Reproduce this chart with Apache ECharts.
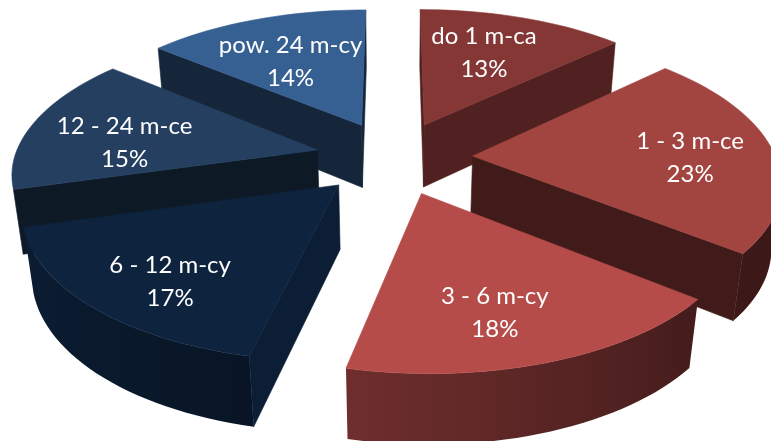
<!DOCTYPE html>
<html><head><meta charset="utf-8">
<style>html,body{margin:0;padding:0;background:#fff}#c{width:771px;height:441px}</style>
<script src="https://cdn.jsdelivr.net/npm/echarts@6/dist/echarts.min.js"></script>
</head><body><div id="c"></div>
<script>
var categories = ['do 1 m-ca', '1 - 3 m-ce', '3 - 6 m-cy', '6 - 12 m-cy', '12 - 24 m-ce', 'pow. 24 m-cy'];
var values = [13, 22.8, 17.8, 17, 15.4, 14];
var topColors = ['#853735', '#A24440', '#B54C4A', '#0E233E', '#243F60', '#376092'];
var cutShades = [0.6, 0.4, 0.4, 0.87, 0.4, 0.4];
var labelNudges = [[-12, 5], [7, 5], [-12, 7], [-2, 15], [7, 12], [6, 13]];

var VIEW = {cx: 392, cy: 157.5, A: 308, B: 141.4, k: 0.1486, m: 0.025, D: 65, explode: 0.26, labelR: 0.96,
  shiftA: 2, shiftB: -5, shiftC: -3};
var total = values.reduce(function (a, b) { return a + b; }, 0);
var RAD = Math.PI / 180;

function project(x, y, low) {
  var s = 1 / (1 + VIEW.k * y + (low ? VIEW.m : 0));
  return [VIEW.cx + VIEW.A * x * s + VIEW.shiftA + VIEW.shiftB * x + VIEW.shiftC * Math.min(y, 0),
          VIEW.cy + (-VIEW.B * y + (low ? VIEW.D : 0)) * s];
}
function shade(hex, f) {
  var n = parseInt(hex.slice(1), 16);
  return 'rgb(' + Math.round((n >> 16) * f) + ',' + Math.round(((n >> 8) & 255) * f) + ',' + Math.round((n & 255) * f) + ')';
}
function wallShade(deg) {
  return Math.max(0.37, Math.min(0.9, 0.37 + (deg - 130) * 0.0038));
}
function area(p) {
  var a = 0;
  for (var i = 0; i < p.length; i++) {
    var q = p[(i + 1) % p.length];
    a += p[i][0] * q[1] - q[0] * p[i][1];
  }
  return a;
}
function startAngle(i) {
  var sum = 0;
  for (var j = 0; j < i; j++) sum += values[j];
  return sum / total * 360;
}
var ranks = values.map(function (v, i) {
  return {i: i, y: Math.cos((startAngle(i) + v / total * 180) * RAD)};
}).sort(function (a, b) { return b.y - a.y; });

function renderSlice(params, api) {
  var i = params.dataIndex, v = api.value(0);
  var rank = 0;
  ranks.forEach(function (r, idx) { if (r.i === i) rank = idx; });
  var a0 = startAngle(i), a1 = a0 + v / total * 360, mid = (a0 + a1) / 2;
  var ox = VIEW.explode * Math.sin(mid * RAD), oy = VIEW.explode * Math.cos(mid * RAD);
  var color = topColors[i], kids = [];
  function poly(points, fill, z, stroke) {
    kids.push({type: 'polygon', shape: {points: points}, z2: rank * 10 + z, silent: true,
      style: {fill: fill, stroke: stroke || fill, lineWidth: 0.6}});
  }
  function edge(a, b) {
    return [project(a[0], a[1]), project(b[0], b[1]), project(b[0], b[1], true), project(a[0], a[1], true)];
  }
  var n = Math.ceil((a1 - a0) / 2), arc = [];
  for (var t = 0; t <= n; t++) {
    var d = a0 + (a1 - a0) * t / n;
    arc.push([ox + Math.sin(d * RAD), oy + Math.cos(d * RAD), d]);
  }
  var apex = [ox, oy];
  [[apex, arc[0]], [arc[n], apex]].forEach(function (e) {
    var q = edge(e[0], e[1]);
    if (area(q) < 0) poly(q, shade(color, cutShades[i]), 1);
  });
  var upper = [], lower = [], samples = [];
  for (var w = 0; w < n; w++) {
    var qw = edge(arc[w], arc[w + 1]);
    if (area(qw) < 0) {
      if (!upper.length) { upper.push(qw[0]); lower.push(qw[3]); }
      upper.push(qw[1]); lower.push(qw[2]);
      samples.push([(qw[0][0] + qw[1][0]) / 2, wallShade((arc[w][2] + arc[w + 1][2]) / 2)]);
    }
  }
  if (upper.length > 1) {
    samples.sort(function (a, b) { return a[0] - b[0]; });
    var x0 = samples[0][0], x1 = samples[samples.length - 1][0], span = Math.max(x1 - x0, 1);
    var fill = {type: 'linear', global: true, x: x0, y: 0, x2: x0 + span, y2: 0,
      colorStops: samples.map(function (s) { return {offset: (s[0] - x0) / span, color: shade(color, s[1])}; })};
    poly(upper.concat(lower.reverse()), fill, 2, 'transparent');
  }
  var top = [project(apex[0], apex[1])];
  arc.forEach(function (p) { top.push(project(p[0], p[1])); });
  poly(top, color, 3);

  var lp = project(VIEW.labelR * Math.sin(mid * RAD), VIEW.labelR * Math.cos(mid * RAD));
  kids.push({type: 'text', z2: 100, silent: true,
    x: lp[0] + labelNudges[i][0], y: lp[1] + labelNudges[i][1],
    style: {text: categories[i] + '\n' + Math.round(v / total * 100) + '%', fill: '#fff',
      font: '24px Lato, "Open Sans", sans-serif', lineHeight: 33, align: 'center', verticalAlign: 'middle'}});
  return {type: 'group', children: kids};
}

var chart = echarts.init(document.getElementById('c'), null, {renderer: 'canvas'});
chart.setOption({
  animation: false,
  backgroundColor: '#fff',
  series: [{type: 'custom', coordinateSystem: 'none', renderItem: renderSlice, silent: true,
    data: values.map(function (v, i) { return {name: categories[i], value: [v]}; })}]
});
</script></body></html>
